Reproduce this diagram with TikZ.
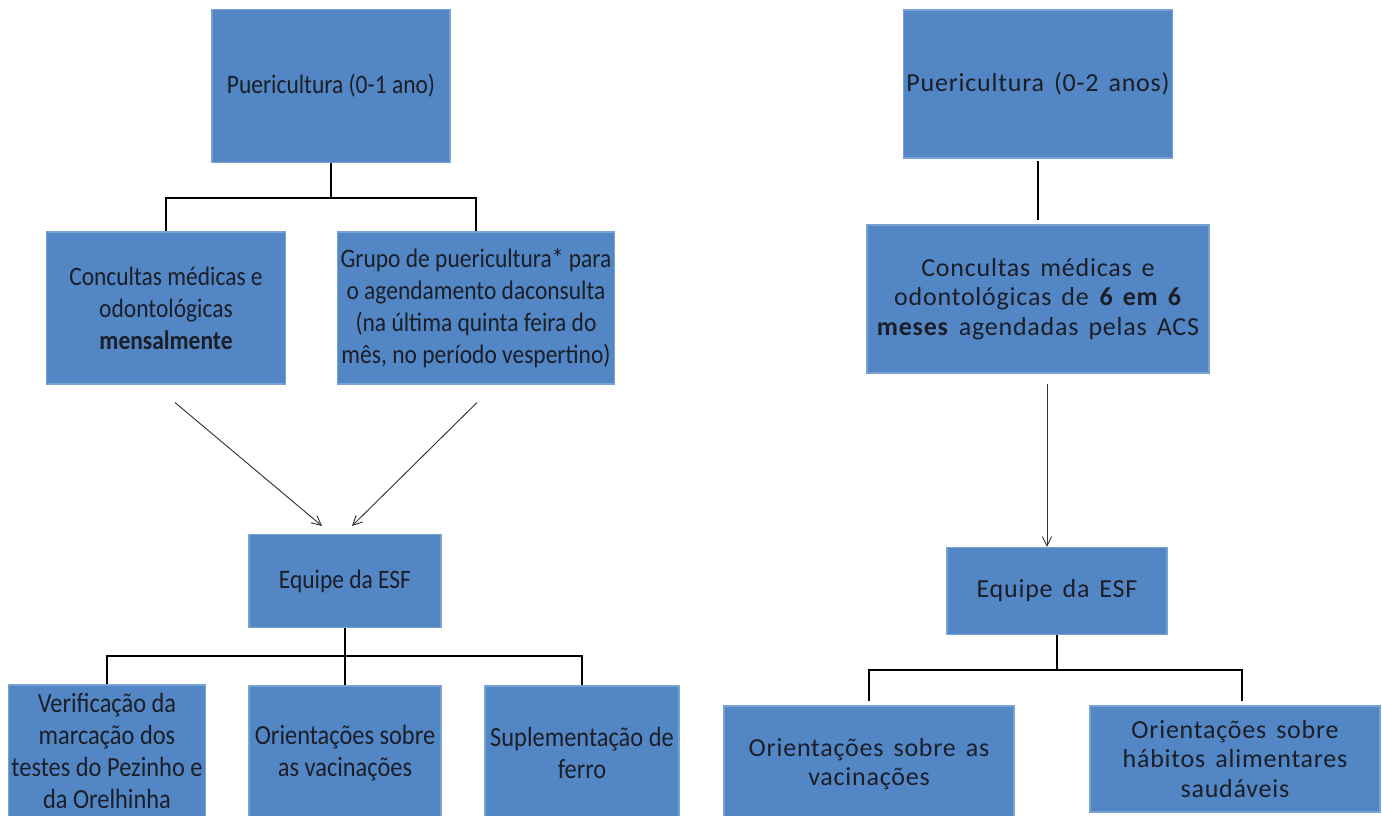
\documentclass[tikz,border=0pt]{standalone}
\usepackage{fontspec}
\setmainfont{Carlito}
\newfontfamily\narrowfont{Carlito}[FakeStretch=0.88]
\newfontfamily\widefont{Carlito}[LetterSpace=3.0, WordSpace=1.5]
\usepackage{xcolor}
\definecolor{boxblue}{RGB}{82,134,196}
\definecolor{boxedge}{RGB}{120,162,210}
\definecolor{inkdark}{RGB}{28,30,40}
\usepackage{tikz}
\usetikzlibrary{arrows.meta, positioning}

\begin{document}
\begin{tikzpicture}[
  x=0.75pt, y=0.75pt,
  box/.style   = {rectangle, draw=boxedge, line width=0.8pt, fill=boxblue,
                  text=inkdark, align=center, inner sep=2pt},
  lbox/.style  = {box, font=\narrowfont\fontsize{20}{24}\selectfont},
  lbig/.style  = {box, font=\narrowfont\fontsize{20.8}{24.2}\selectfont},
  rbox/.style  = {box, font=\widefont\fontsize{19.5}{22}\selectfont},
  tree/.style  = {line width=2pt, black},
  arr/.style   = {-{Straight Barb[length=7pt, width=7pt]}, line width=0.7pt, black!80},
]
\useasboundingbox (0,0) rectangle (1382,-816);
\clip (0,0) rectangle (1382,-816);

\node[lbox, minimum width=178.5pt, minimum height=114.75pt] (pue1) at (331,-86)
  {Puericultura (0-1 ano)};
\node[lbox, minimum width=179.25pt, minimum height=114pt] (cons1) at (166,-308)
  {Concultas médicas e\\ odontológicas\\ \textbf{mensalmente}};
\node[lbox, minimum width=207pt, minimum height=114pt] (grupo1) at (476,-308)
  {Grupo de puericultura* para\\ o agendamento daconsulta\\ (na última quinta feira do\\ mês, no período vespertino)};
\node[lbox, minimum width=144pt, minimum height=69.75pt] (esf1) at (345,-581)
  {Equipe da ESF};
\node[lbig, minimum width=146pt, minimum height=99pt] (verif1) at (107,-751)
  {Verificação da\\ marcação dos\\ testes do Pezinho e\\ da Orelhinha};
\node[lbig, minimum width=144pt, minimum height=100.5pt] (vac1) at (345,-753)
  {Orientações sobre\\ as vacinações};
\node[lbig, minimum width=145.5pt, minimum height=100.5pt] (ferro1) at (582,-753)
  {Suplementação de\\ ferro};

\node[rbox, minimum width=201pt, minimum height=111pt] (pue2) at (1038,-84)
  {Puericultura (0-2 anos)};
\node[rbox, minimum width=256.5pt, minimum height=111pt] (cons2) at (1038,-299)
  {Concultas médicas e\\ odontológicas de \textbf{6 em 6}\\ \textbf{meses} agendadas pelas ACS};
\node[rbox, minimum width=165pt, minimum height=65.25pt] (esf2) at (1057,-591)
  {Equipe da ESF};
\node[rbox, minimum width=217.5pt, minimum height=87pt] (vac2) at (869,-764)
  {Orientações sobre as\\ vacinações};
\node[rbox, minimum width=217.5pt, minimum height=79.5pt] (hab2) at (1235,-759)
  {Orientações sobre\\ hábitos alimentares\\ saudáveis};

\draw[tree] (pue1.south) -- ++(0,-35) -| (cons1.north);
\draw[tree] (pue1.south) ++(0,-35) -| (grupo1.north);
\draw[arr] ([shift={(9,-18)}]cons1.south) -- ([shift={(-23,8)}]esf1.north);
\draw[arr] ([shift={(1,-18)}]grupo1.south) -- ([shift={(7,8)}]esf1.north);
\draw[tree] (esf1.south) -- ++(0,-28) -| (verif1.north);
\draw[tree] (esf1.south) ++(0,-28) -| (vac1.north);
\draw[tree] (esf1.south) ++(0,-28) -| (ferro1.north);

\draw[tree] ([shift={(0,-2)}]pue2.south) -- ([shift={(0,4)}]cons2.north);
\draw[arr] ([shift={(9,-10)}]cons2.south) -- ([shift={(-10,0)}]esf2.north);
\draw[tree] (esf2.south) -- ++(0,-35) -| ([shift={(0,4)}]vac2.north);
\draw[tree] (esf2.south) ++(0,-35) -| ([shift={(7,4)}]hab2.north);
\end{tikzpicture}
\end{document}
